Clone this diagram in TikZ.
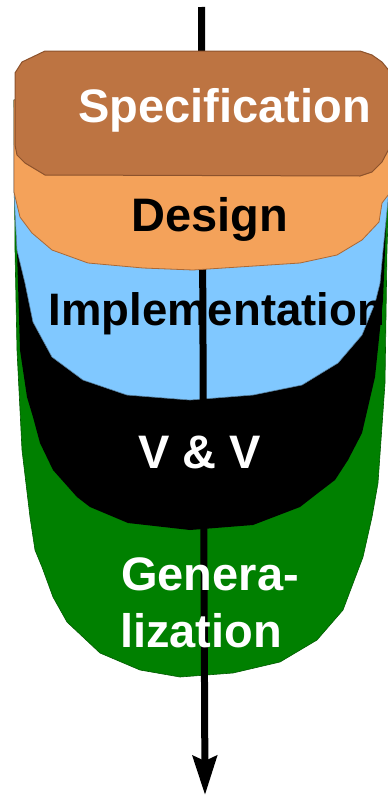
\documentclass[tikz,border=0pt]{standalone}
\usepackage{fontspec}
\setmainfont{Liberation Sans}
\usetikzlibrary{arrows.meta}
\definecolor{specbrown}{RGB}{189,116,66}
\definecolor{specedge}{RGB}{140,82,44}
\definecolor{designorange}{RGB}{244,162,90}
\definecolor{designedge}{RGB}{170,105,55}
\definecolor{implblue}{RGB}{128,200,255}
\definecolor{impledge}{RGB}{90,130,160}
\definecolor{gengreen}{RGB}{0,128,0}
\tikzset{
  layer/.style={line join=round},
  label/.style={inner sep=0pt, font=\bfseries\fontsize{47}{56}\selectfont},
}
\begin{document}
\begin{tikzpicture}[x=1pt,y=-1pt]
\useasboundingbox (0,0) rectangle (388,795);
\clip (0,0) rectangle (388,795);

% generalization cup (back)
\path[layer, fill=gengreen, draw=gengreen!70!black, line width=0.6]
  (14,100) -- (15,250) -- (17,350) -- (22,450) -- (30,517) -- (35,550) -- (42,567)
  -- (53,597) -- (67,622) -- (100,653) -- (140,670) -- (180,677) -- (233,673)
  -- (280,662) -- (317,640) -- (343,610) -- (363,557) -- (372,517) -- (378,483)
  -- (385,383) -- (387,250) -- (392,100) -- cycle;

% V & V cup
\path[layer, fill=black]
  (15,100) -- (16,230) -- (17,250) -- (20,350) -- (27,397) -- (33,417) -- (40,443)
  -- (53,470) -- (77,497) -- (90,507) -- (128,523) -- (190,530) -- (253,525)
  -- (300,507) -- (318,493) -- (335,480) -- (348,460) -- (362,433) -- (375,377)
  -- (383,300) -- (385,250) -- (391,100) -- cycle;

% implementation cup
\path[layer, fill=implblue, draw=impledge, line width=0.6]
  (14,100) -- (14,192) -- (17,250) -- (25,283) -- (33,322) -- (52,357) -- (83,380)
  -- (127,395) -- (190,400) -- (253,395) -- (302,385) -- (338,363) -- (362,335)
  -- (375,303) -- (380,283) -- (383,250) -- (388,200) -- (392,100) -- cycle;

% process arrow, passing behind the two upper layers
\coordinate (flowtop) at (201.5,7);
\coordinate (flowend) at (205,795);
\draw[line width=7, -{Stealth[width=24pt,length=39pt,inset=5pt]}] (flowtop) -- (flowend);

% design layer
\path[layer, fill=designorange, draw=designedge, line width=0.8]
  (14,100) -- (392,100) -- (392,190) -- (382,203) -- (379,222) -- (362,240)
  -- (337,255) -- (300,263) -- (193,270) -- (143,268) -- (88,263) -- (52,250)
  -- (32,233) -- (20,217) -- (14,192) -- cycle;

% specification layer (front)
\path[layer, fill=specbrown, draw=specedge, line width=1]
  (15,73) -- (22,62) -- (45,51) -- (360,51) -- (372,55) -- (382,62) -- (391,73)
  -- (391,145) -- (382,162) -- (372,172) -- (360,176) -- (45,175) -- (25,163)
  -- (17,155) -- (15,145) -- cycle;

% labels
\node[label, text=white, anchor=base] (spec) at (224.5,122) {Specification};
\node[label, text=black, anchor=base] (design) at (210,231) {Design};
\node[label, text=black, anchor=base west, font=\bfseries\fontsize{45.5}{54}\selectfont]
  (impl) at (48.5,325) {Implementation};
\node[label, text=white, anchor=base] (vv) at (200,468) {V \& V};
\node[label, text=white, anchor=base west] (gen1) at (121,590) {Genera-};
\node[label, text=white, anchor=base west] (gen2) at (120,647) {lization};
\end{tikzpicture}
\end{document}
